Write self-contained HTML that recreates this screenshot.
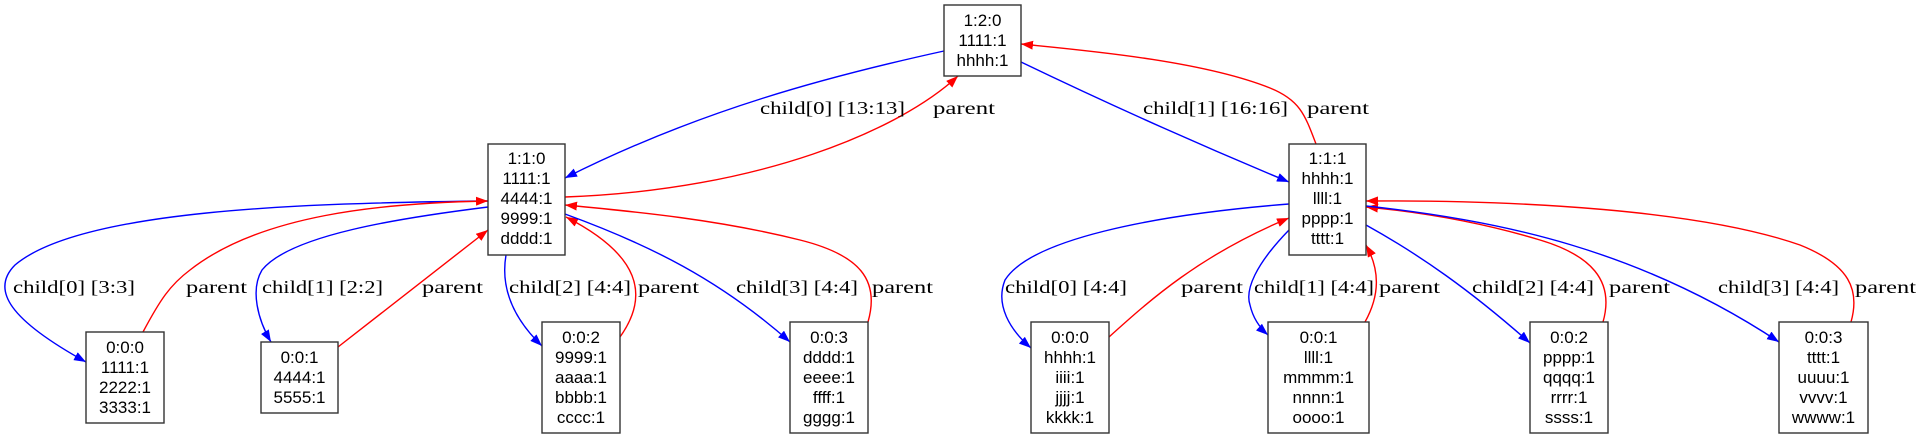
<!DOCTYPE html>
<html><head><meta charset="utf-8"><style>
html,body{margin:0;padding:0;background:#fff;width:1924px;height:439px;overflow:hidden}
svg{display:block}
.n{font-family:"Liberation Sans",Arial,sans-serif;font-size:17px;fill:#000;text-anchor:middle}
.l{font-family:"Liberation Serif","DejaVu Serif",serif;font-size:18px;fill:#000}
rect{fill:#fff;stroke:#333;stroke-width:1.4}
.b{fill:none;stroke:#0000ff;stroke-width:1.4}
.r{fill:none;stroke:#ff0000;stroke-width:1.4}
</style></head><body>
<svg width="1924" height="439" viewBox="0 0 1924 439" xmlns="http://www.w3.org/2000/svg">
<defs>
<marker id="ab" markerUnits="userSpaceOnUse" markerWidth="13" markerHeight="9" refX="12" refY="4.5" orient="auto"><path d="M0,0 L12,4.5 L0,9 z" fill="#0000ff"/></marker>
<marker id="ar" markerUnits="userSpaceOnUse" markerWidth="13" markerHeight="9" refX="12" refY="4.5" orient="auto"><path d="M0,0 L12,4.5 L0,9 z" fill="#ff0000"/></marker>
</defs>
<!-- edges -->
<path class="b" marker-end="url(#ab)" d="M944,51 C830,76 700,110 565,178"/>
<path class="r" marker-end="url(#ar)" d="M565,197 C760,190 900,130 958,76"/>
<path class="b" marker-end="url(#ab)" d="M1021,62 C1100,100 1200,145 1289,182"/>
<path class="r" marker-end="url(#ar)" d="M1316,144 C1305,115 1300,100 1270,88 C1200,60 1080,50 1021,44"/>
<path class="b" marker-end="url(#ab)" d="M488,201 C300,203 80,210 15,265 C-10,290 10,320 86,362"/>
<path class="r" marker-end="url(#ar)" d="M143,332 C160,300 170,285 190,270 C260,215 380,203 488,201"/>
<path class="b" marker-end="url(#ab)" d="M488,207 C400,218 290,235 262,270 C250,290 258,320 271,342"/>
<path class="r" marker-end="url(#ar)" d="M338,347 L488,230"/>
<path class="b" marker-end="url(#ab)" d="M506,255 C500,290 515,320 542,346"/>
<path class="r" marker-end="url(#ar)" d="M620,337 C650,295 640,255 566,217"/>
<path class="b" marker-end="url(#ab)" d="M565,214 C650,245 720,280 790,342"/>
<path class="r" marker-end="url(#ar)" d="M868,322 C880,280 860,255 800,240 C720,220 640,212 565,205"/>
<path class="b" marker-end="url(#ab)" d="M1289,204 C1150,215 1030,240 1005,280 C995,305 1010,330 1031,348"/>
<path class="r" marker-end="url(#ar)" d="M1109,337 C1150,300 1200,255 1289,218"/>
<path class="b" marker-end="url(#ab)" d="M1289,230 C1255,265 1245,290 1250,305 C1253,318 1260,328 1268,335"/>
<path class="r" marker-end="url(#ar)" d="M1365,322 C1380,295 1380,270 1366,245"/>
<path class="b" marker-end="url(#ab)" d="M1366,225 C1420,255 1470,290 1530,343"/>
<path class="r" marker-end="url(#ar)" d="M1603,322 C1615,280 1590,255 1540,240 C1480,222 1420,212 1366,207"/>
<path class="b" marker-end="url(#ab)" d="M1366,206 C1500,220 1640,250 1779,342"/>
<path class="r" marker-end="url(#ar)" d="M1851,322 C1860,290 1850,265 1800,245 C1700,210 1520,200 1366,201"/>
<!-- edge labels -->
<text class="l" x="760" y="114" textLength="145" lengthAdjust="spacingAndGlyphs">child[0] [13:13]</text>
<text class="l" x="933" y="114" textLength="62" lengthAdjust="spacingAndGlyphs">parent</text>
<text class="l" x="1143" y="114" textLength="145" lengthAdjust="spacingAndGlyphs">child[1] [16:16]</text>
<text class="l" x="1307" y="114" textLength="62" lengthAdjust="spacingAndGlyphs">parent</text>
<text class="l" x="13" y="293" textLength="122" lengthAdjust="spacingAndGlyphs">child[0] [3:3]</text>
<text class="l" x="186" y="293" textLength="61" lengthAdjust="spacingAndGlyphs">parent</text>
<text class="l" x="262" y="293" textLength="121" lengthAdjust="spacingAndGlyphs">child[1] [2:2]</text>
<text class="l" x="422" y="293" textLength="61" lengthAdjust="spacingAndGlyphs">parent</text>
<text class="l" x="509" y="293" textLength="122" lengthAdjust="spacingAndGlyphs">child[2] [4:4]</text>
<text class="l" x="638" y="293" textLength="61" lengthAdjust="spacingAndGlyphs">parent</text>
<text class="l" x="736" y="293" textLength="122" lengthAdjust="spacingAndGlyphs">child[3] [4:4]</text>
<text class="l" x="872" y="293" textLength="61" lengthAdjust="spacingAndGlyphs">parent</text>
<text class="l" x="1005" y="293" textLength="122" lengthAdjust="spacingAndGlyphs">child[0] [4:4]</text>
<text class="l" x="1181" y="293" textLength="62" lengthAdjust="spacingAndGlyphs">parent</text>
<text class="l" x="1254" y="293" textLength="120" lengthAdjust="spacingAndGlyphs">child[1] [4:4]</text>
<text class="l" x="1379" y="293" textLength="61" lengthAdjust="spacingAndGlyphs">parent</text>
<text class="l" x="1472" y="293" textLength="122" lengthAdjust="spacingAndGlyphs">child[2] [4:4]</text>
<text class="l" x="1609" y="293" textLength="61" lengthAdjust="spacingAndGlyphs">parent</text>
<text class="l" x="1718" y="293" textLength="121" lengthAdjust="spacingAndGlyphs">child[3] [4:4]</text>
<text class="l" x="1855" y="293" textLength="61" lengthAdjust="spacingAndGlyphs">parent</text>
<!-- nodes -->
<rect x="944" y="5" width="77" height="71"/>
<text class="n" x="982.5" y="26">1:2:0</text><text class="n" x="982.5" y="46">1111:1</text><text class="n" x="982.5" y="66">hhhh:1</text>

<rect x="488" y="144" width="77" height="111"/>
<text class="n" x="526.5" y="164">1:1:0</text><text class="n" x="526.5" y="184">1111:1</text><text class="n" x="526.5" y="204">4444:1</text><text class="n" x="526.5" y="224">9999:1</text><text class="n" x="526.5" y="244">dddd:1</text>

<rect x="1289" y="144" width="77" height="111"/>
<text class="n" x="1327.5" y="164">1:1:1</text><text class="n" x="1327.5" y="184">hhhh:1</text><text class="n" x="1327.5" y="204">llll:1</text><text class="n" x="1327.5" y="224">pppp:1</text><text class="n" x="1327.5" y="244">tttt:1</text>

<rect x="86" y="332" width="78" height="91"/>
<text class="n" x="125" y="353">0:0:0</text><text class="n" x="125" y="373">1111:1</text><text class="n" x="125" y="393">2222:1</text><text class="n" x="125" y="413">3333:1</text>

<rect x="261" y="342" width="77" height="71"/>
<text class="n" x="299.5" y="363">0:0:1</text><text class="n" x="299.5" y="383">4444:1</text><text class="n" x="299.5" y="403">5555:1</text>

<rect x="542" y="322" width="78" height="111"/>
<text class="n" x="581" y="343">0:0:2</text><text class="n" x="581" y="363">9999:1</text><text class="n" x="581" y="383">aaaa:1</text><text class="n" x="581" y="403">bbbb:1</text><text class="n" x="581" y="423">cccc:1</text>

<rect x="790" y="322" width="78" height="111"/>
<text class="n" x="829" y="343">0:0:3</text><text class="n" x="829" y="363">dddd:1</text><text class="n" x="829" y="383">eeee:1</text><text class="n" x="829" y="403">ffff:1</text><text class="n" x="829" y="423">gggg:1</text>

<rect x="1031" y="322" width="78" height="111"/>
<text class="n" x="1070" y="343">0:0:0</text><text class="n" x="1070" y="363">hhhh:1</text><text class="n" x="1070" y="383">iiii:1</text><text class="n" x="1070" y="403">jjjj:1</text><text class="n" x="1070" y="423">kkkk:1</text>

<rect x="1268" y="322" width="101" height="111"/>
<text class="n" x="1318.5" y="343">0:0:1</text><text class="n" x="1318.5" y="363">llll:1</text><text class="n" x="1318.5" y="383">mmmm:1</text><text class="n" x="1318.5" y="403">nnnn:1</text><text class="n" x="1318.5" y="423">oooo:1</text>

<rect x="1530" y="322" width="78" height="111"/>
<text class="n" x="1569" y="343">0:0:2</text><text class="n" x="1569" y="363">pppp:1</text><text class="n" x="1569" y="383">qqqq:1</text><text class="n" x="1569" y="403">rrrr:1</text><text class="n" x="1569" y="423">ssss:1</text>

<rect x="1779" y="322" width="89" height="111"/>
<text class="n" x="1823.5" y="343">0:0:3</text><text class="n" x="1823.5" y="363">tttt:1</text><text class="n" x="1823.5" y="383">uuuu:1</text><text class="n" x="1823.5" y="403">vvvv:1</text><text class="n" x="1823.5" y="423">wwww:1</text>
</svg>
</body></html>
